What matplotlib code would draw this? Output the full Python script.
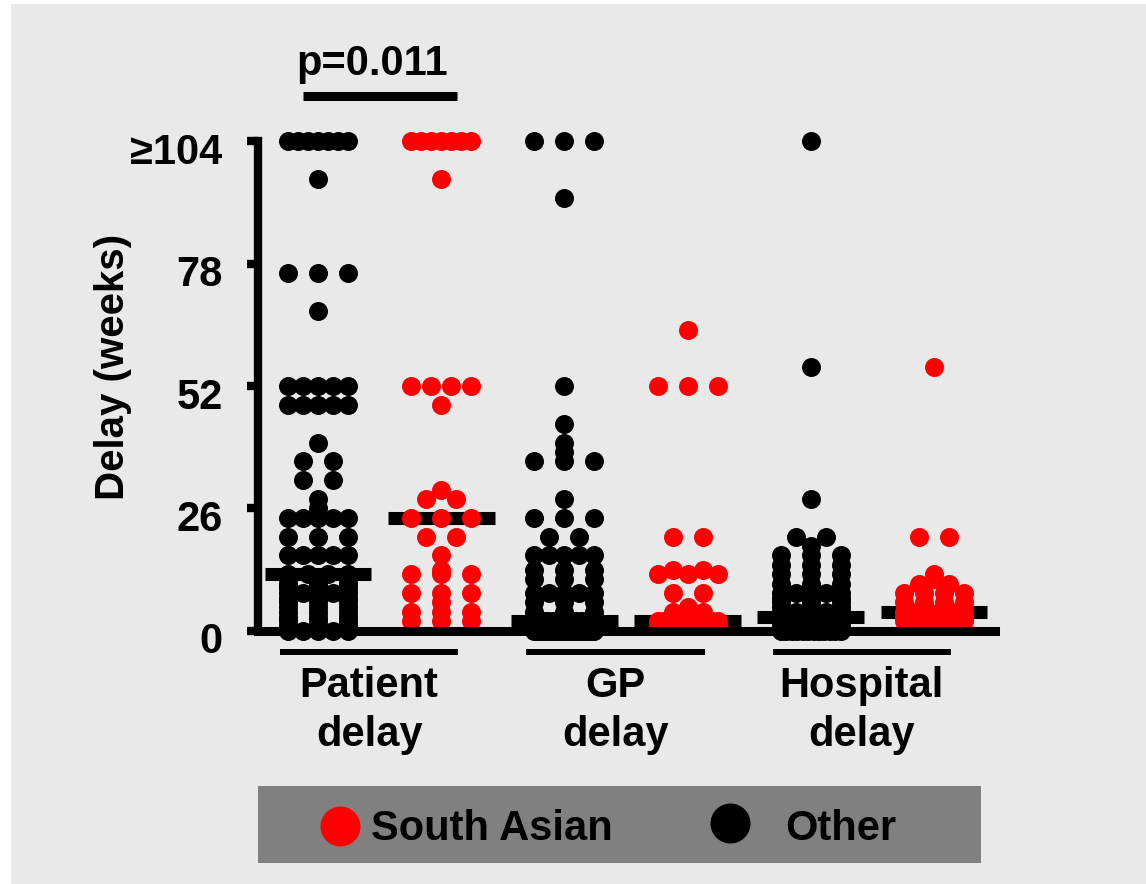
import numpy as np
import matplotlib
matplotlib.use("Agg")
import matplotlib.pyplot as plt
from matplotlib.lines import Line2D
from matplotlib.patches import Rectangle
from matplotlib import transforms

plt.rcParams['font.family'] = ['Liberation Sans', 'DejaVu Sans']
plt.rcParams['font.weight'] = 'bold'

# ---------------- data (weeks; 104 stands for >=104) ----------------
categories = ["Patient\ndelay", "GP\ndelay", "Hospital\ndelay"]
series_names = ["South Asian", "Other"]
series_colors = {"South Asian": "#ff0000", "Other": "#000000"}
ytick_values = [0, 26, 52, 78, 104]
ytick_labels = ["0", "26", "52", "78", "≥104"]
ylabel = "Delay (weeks)"
p_label = "p=0.011"

patient_other = [104, 104, 104, 104, 104, 104, 104, 96, 76, 76, 76, 68,
                 52, 52, 52, 52, 52, 48, 48, 48, 48, 48, 40, 36, 36, 32, 32,
                 28, 26, 24, 24, 24, 24, 24, 20, 20, 20, 16, 16, 16, 16, 16,
                 12, 12, 12, 12, 11, 11, 11, 10, 10, 10, 9, 9, 9,
                 8, 8, 8, 8, 8, 7, 7, 7, 6, 6, 6, 5, 5, 5, 4, 4, 4,
                 3, 3, 3, 2, 2, 2, 1, 1, 1, 0, 0, 0, 0, 0]
patient_sa = [104, 104, 104, 104, 104, 104, 104, 96, 52, 52, 52, 52, 48,
              30, 28, 28, 24, 24, 24, 20, 20, 16, 13, 12, 12, 12,
              8, 8, 8, 6, 4, 4, 4, 2, 2, 2]
gp_other = [104, 104, 104, 92, 52, 44, 40, 38, 36, 36, 36, 28, 24, 24, 24,
            20, 20, 16, 16, 16, 16, 16, 13, 13, 13, 11, 11, 11,
            8, 8, 8, 8, 8, 6, 6, 6, 4, 4, 4, 3, 3, 3,
            2, 2, 2, 2, 2, 2, 2, 2, 2, 2, 2, 2, 2, 2,
            1, 1, 1, 1, 1, 1, 1, 1, 1, 1, 1, 1, 1, 1,
            0, 0, 0, 0, 0, 0, 0, 0, 0, 0, 0, 0, 0, 0, 0, 0]
gp_sa = [64, 52, 52, 52, 20, 20, 13, 13, 12, 12, 12, 8, 8, 5, 4, 4, 3,
         2, 2, 2, 2, 2, 2, 2, 2, 2, 2, 2, 1, 1, 1, 1, 1, 1, 1, 1]
hosp_other = [104, 56, 28, 20, 20, 18, 16, 16, 16, 14, 14, 14, 12, 12, 12,
              10, 10, 10, 8, 8, 8, 8, 8, 7, 7, 7, 6, 6, 6, 5, 5, 5,
              4, 4, 4, 4, 4,
              3, 3, 3, 3, 3, 3, 3, 3, 3, 3, 3, 3,
              2, 2, 2, 2, 2, 2, 2, 2, 2, 2, 2, 2, 2,
              1, 1, 1, 1, 1, 1, 1, 1, 1, 1, 1, 1,
              0, 0, 0, 0, 0, 0, 0, 0, 0, 0, 0, 0]
hosp_sa = [56, 20, 20, 12, 11, 10, 10, 8, 8, 8, 8, 6, 6, 6, 6,
           4, 4, 4, 4, 4, 4, 3, 3, 3, 3, 3, 3, 3, 2, 2, 2, 2, 2, 2, 2, 2]

groups = [(patient_other, "Other"), (patient_sa, "South Asian"),
          (gp_other, "Other"), (gp_sa, "South Asian"),
          (hosp_other, "Other"), (hosp_sa, "South Asian")]

# ---------------- layout ----------------
W, H = 1146, 884
fig = plt.figure(figsize=(W / 100, H / 100), dpi=100, facecolor='white')
fig.patches.append(Rectangle((11 / W, 0), 1 - 11 / W, 1 - 4 / H,
                             transform=fig.transFigure, facecolor='#e9e9e9',
                             edgecolor='none', zorder=-10))

x_left_px, x_right_px = 258, 995
y0_px, ytop_px = 630.7, 141.5
ax = fig.add_axes([x_left_px / W, 1 - y0_px / H,
                   (x_right_px - x_left_px) / W, (y0_px - ytop_px) / H])
ax.patch.set_visible(False)
step_px = 123.2
first_px = 318
ax.set_xlim((x_left_px - first_px) / step_px, (x_right_px - first_px) / step_px)
ax.set_ylim(0, 104)

unit = 15 / step_px  # horizontal spacing between columns of dots


def column_offsets(values, unit):
    vals = np.asarray(values, float)
    offs = np.zeros(len(vals))
    for v in np.unique(vals):
        idx = np.where(vals == v)[0]
        n = len(idx)
        if n == 1:
            continue
        w = min(n - 1, 2)
        offs[idx] = np.linspace(-w, w, n) * unit
    return offs


for i, (vals, name) in enumerate(groups):
    offs = column_offsets(vals, unit)
    ax.scatter(i + offs, vals, s=187, color=series_colors[name], linewidths=0,
               clip_on=False, zorder=2)
    m = np.median(vals)
    ax.plot([i - 0.434, i + 0.434], [m, m], color='black', lw=9.4,
            solid_capstyle='butt', zorder=1.5, clip_on=False)

for s in ['top', 'right']:
    ax.spines[s].set_visible(False)
ax.spines['left'].set_linewidth(6)
ax.spines['bottom'].set_linewidth(6.5)
for s in ['left', 'bottom']:
    ax.spines[s].set_zorder(3)
    ax.spines[s].set_capstyle('projecting')
ax.set_xticks([])
ax.set_yticks(ytick_values)
ax.set_yticklabels(ytick_labels)
ax.tick_params(axis='y', length=8, width=6, pad=17.5, labelsize=30)
offset = transforms.ScaledTranslation(0, -7 / 100, fig.dpi_scale_trans)
for lab in ax.get_yticklabels():
    lab.set_transform(lab.get_transform() + offset)

# category underlines and labels
blend = transforms.blended_transform_factory(ax.transData, fig.transFigure)
for k, cat in enumerate(categories):
    c = 2 * k + 0.5 - 0.085
    fig.add_artist(Line2D([c - 0.725, c + 0.725], [1 - 652 / H] * 2, transform=blend,
                          color='black', lw=4.3, solid_capstyle='butt'))
    fig.text(c, 1 - 666 / H, cat, transform=blend, ha='center', va='top',
             fontsize=30, linespacing=1.3)

# p-value bracket
fig.add_artist(Line2D([-0.122, 1.129], [1 - 96 / H] * 2, transform=blend,
                      color='black', lw=6.5, solid_capstyle='butt'))
fig.text(0.44, 1 - 75 / H, p_label, transform=blend, ha='center', va='baseline',
         fontsize=30)

# y label
fig.text(113 / W, 1 - 367 / H, ylabel, rotation=90, ha='center', va='center',
         fontsize=29)

# legend
fig.patches.append(Rectangle((258 / W, 1 - 863 / H), (981 - 258) / W, (863 - 786) / H,
                             transform=fig.transFigure, facecolor='#808080',
                             edgecolor='none', zorder=1))
legend_items = [("South Asian", 340, 826, 371), ("Other", 730, 823, 785)]
for name, mx, my, tx in legend_items:
    fig.add_artist(Line2D([mx / W], [1 - my / H], marker='o', ms=28.8, mew=0,
                          color=series_colors[name], linestyle='none',
                          transform=fig.transFigure, zorder=2))
    fig.text(tx / W, 1 - 840 / H, name, ha='left', va='baseline', fontsize=30,
             zorder=3)

fig.savefig('out.png', dpi=100, facecolor=fig.get_facecolor())
